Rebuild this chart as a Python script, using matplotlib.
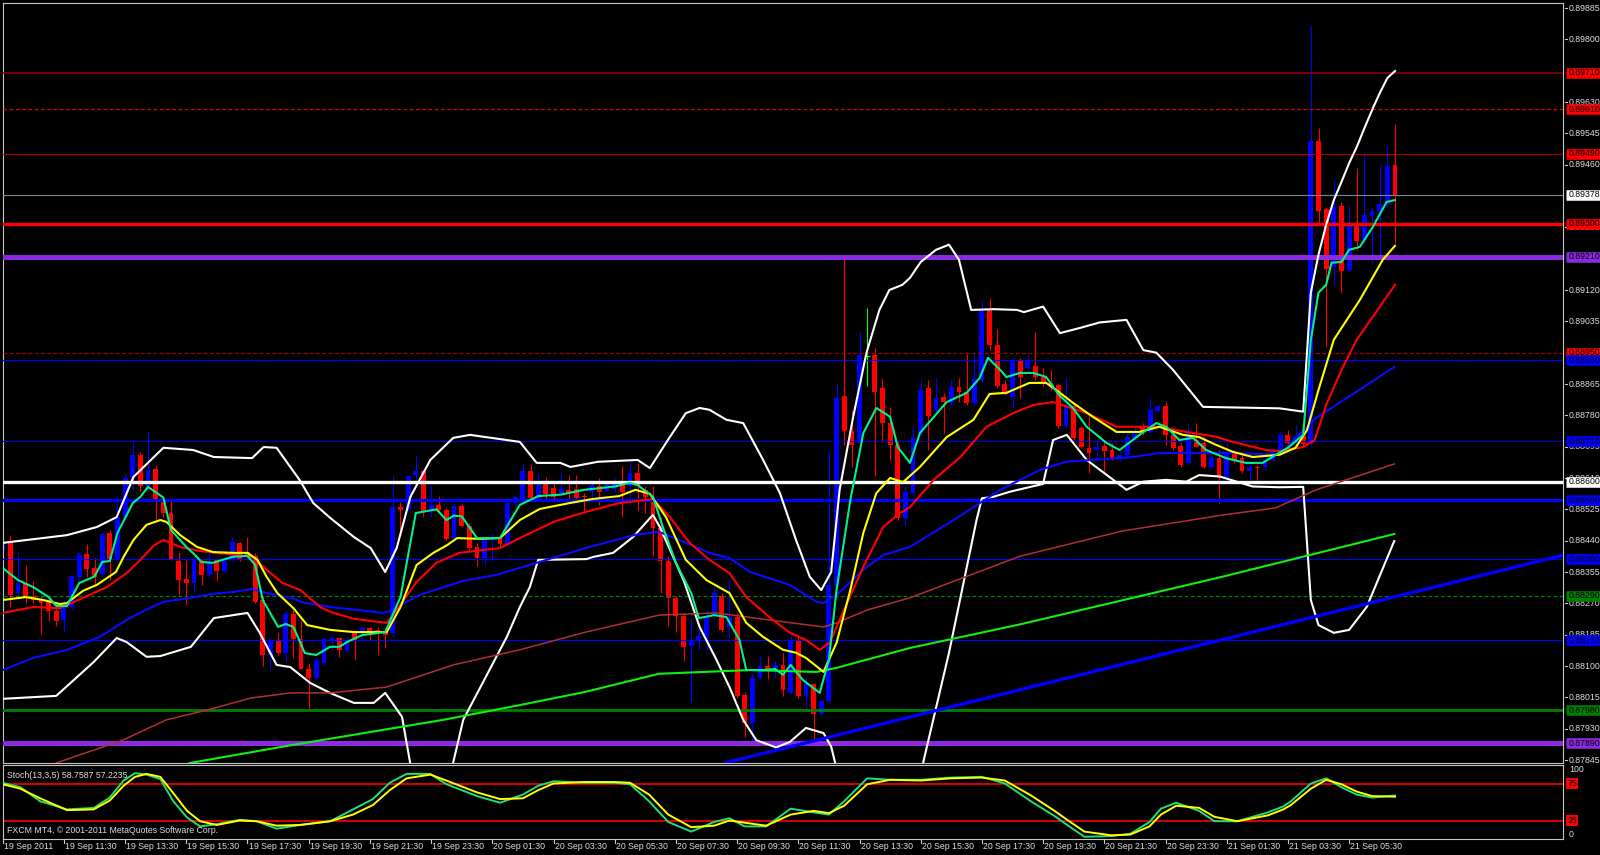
import numpy as np
import matplotlib
matplotlib.use("Agg")
import matplotlib.pyplot as plt
from matplotlib import transforms

plt.rcParams['font.family'] = ['Liberation Sans', 'DejaVu Sans']

# ---------------- data ----------------
opens = [0.88415,0.88437,0.88297,0.88324,0.88289,0.88281,0.88274,0.88248,0.88226,0.88261,
0.88342,0.88404,0.88365,0.88350,0.88460,0.88388,0.88503,0.88609,0.88672,0.88588,
0.88634,0.88550,0.88514,0.88385,0.88336,0.88324,0.88385,0.88347,0.88388,0.88358,
0.88388,0.88434,0.88410,0.88398,0.88279,0.88129,0.88171,0.88136,0.88240,0.88172,
0.88092,0.88068,0.88107,0.88167,0.88177,0.88140,0.88193,0.88189,0.88202,0.88198,
0.88193,0.88189,0.88531,0.88525,0.88618,0.88628,0.88521,0.88537,0.88523,0.88445,
0.88534,0.88480,0.88424,0.88392,0.88441,0.88451,0.88431,0.88541,0.88550,0.88630,
0.88557,0.88603,0.88582,0.88570,0.88578,0.88580,0.88561,0.88573,0.88588,0.88576,
0.88580,0.88594,0.88587,0.88623,0.88578,0.88550,0.88474,0.88384,0.88284,0.88237,
0.88154,0.88171,0.88180,0.88239,0.88289,0.88207,0.88234,0.88020,0.87945,0.88068,
0.88100,0.88094,0.88102,0.88026,0.88171,0.88018,0.88050,0.87970,0.88004,0.88316,
0.88832,0.88738,0.88704,0.88940,0.88945,0.88853,0.88758,0.88699,0.88501,0.88569,
0.88731,0.88853,0.88795,0.88829,0.88813,0.88856,0.88842,0.88813,0.88876,0.89066,
0.88971,0.88865,0.88829,0.88930,0.88908,0.88914,0.88885,0.88868,0.88862,0.88750,
0.88804,0.88746,0.88691,0.88685,0.88697,0.88686,0.88664,0.88672,0.88718,0.88751,
0.88736,0.88791,0.88804,0.88727,0.88697,0.88650,0.88713,0.88704,0.88641,0.88664,
0.88610,0.88677,0.88664,0.88628,0.88641,0.88641,0.88659,0.88678,0.88727,0.88705,
0.88724,0.88702,0.89523,0.89340,0.89183,0.89348,0.89175,0.89294,0.89256,0.89321,
0.89332,0.89354,0.89460]
highs = [0.88463,0.88455,0.88410,0.88374,0.88330,0.88289,0.88292,0.88270,0.88279,0.88347,
0.88410,0.88432,0.88392,0.88460,0.88469,0.88559,0.88623,0.88709,0.88681,0.88734,
0.88645,0.88552,0.88550,0.88410,0.88388,0.88392,0.88389,0.88407,0.88392,0.88398,
0.88451,0.88437,0.88451,0.88407,0.88289,0.88177,0.88189,0.88252,0.88252,0.88221,
0.88107,0.88122,0.88177,0.88185,0.88180,0.88180,0.88198,0.88209,0.88206,0.88206,
0.88202,0.88618,0.88546,0.88618,0.88672,0.88631,0.88591,0.88561,0.88528,0.88541,
0.88541,0.88487,0.88434,0.88451,0.88462,0.88455,0.88544,0.88564,0.88647,0.88649,
0.88623,0.88613,0.88596,0.88623,0.88618,0.88618,0.88569,0.88596,0.88609,0.88604,
0.88609,0.88643,0.88656,0.88650,0.88587,0.88587,0.88505,0.88398,0.88289,0.88240,
0.88230,0.88217,0.88252,0.88321,0.88297,0.88333,0.88243,0.88029,0.88081,0.88126,
0.88128,0.88113,0.88136,0.88188,0.88185,0.88071,0.88053,0.88008,0.88682,0.88866,
0.89206,0.88794,0.89007,0.89070,0.88963,0.88880,0.88803,0.88713,0.88587,0.88746,
0.88876,0.88876,0.88885,0.88840,0.88876,0.88880,0.88946,0.88946,0.89093,0.89098,
0.89015,0.88876,0.88935,0.88935,0.88944,0.89007,0.88908,0.88904,0.88868,0.88880,
0.88813,0.88750,0.88777,0.88713,0.88713,0.88704,0.88682,0.88731,0.88750,0.88758,
0.88826,0.88809,0.88818,0.88736,0.88709,0.88754,0.88758,0.88722,0.88677,0.88686,
0.88704,0.88686,0.88677,0.88645,0.88645,0.88668,0.88695,0.88736,0.88740,0.88754,
0.88746,0.89839,0.89560,0.89345,0.89419,0.89359,0.89351,0.89451,0.89492,0.89345,
0.89460,0.89511,0.89571]
lows = [0.88401,0.88261,0.88279,0.88270,0.88270,0.88188,0.88221,0.88208,0.88193,0.88252,
0.88333,0.88342,0.88321,0.88342,0.88333,0.88384,0.88496,0.88577,0.88575,0.88577,
0.88496,0.88505,0.88388,0.88293,0.88265,0.88297,0.88321,0.88342,0.88330,0.88353,
0.88384,0.88384,0.88392,0.88270,0.88100,0.88091,0.88131,0.88113,0.88122,0.88091,
0.87980,0.88064,0.88104,0.88143,0.88125,0.88136,0.88117,0.88171,0.88171,0.88131,
0.88148,0.88180,0.88455,0.88523,0.88604,0.88505,0.88505,0.88514,0.88441,0.88438,
0.88478,0.88410,0.88371,0.88375,0.88384,0.88421,0.88425,0.88537,0.88541,0.88554,
0.88550,0.88550,0.88550,0.88567,0.88550,0.88550,0.88521,0.88550,0.88537,0.88573,
0.88573,0.88505,0.88537,0.88523,0.88514,0.88398,0.88297,0.88208,0.88193,0.88113,
0.88003,0.88143,0.88143,0.88230,0.88193,0.88177,0.88014,0.87908,0.87899,0.88064,
0.88064,0.88068,0.88018,0.88023,0.88014,0.87985,0.87899,0.87967,0.87999,0.88312,
0.88699,0.88641,0.88699,0.88859,0.88615,0.88709,0.88659,0.88496,0.88483,0.88564,
0.88727,0.88686,0.88791,0.88731,0.88808,0.88817,0.88808,0.88808,0.88871,0.88957,
0.88853,0.88835,0.88802,0.88826,0.88900,0.88876,0.88859,0.88849,0.88746,0.88746,
0.88713,0.88691,0.88623,0.88659,0.88628,0.88659,0.88655,0.88668,0.88713,0.88727,
0.88731,0.88788,0.88699,0.88686,0.88641,0.88645,0.88694,0.88637,0.88637,0.88543,
0.88604,0.88650,0.88623,0.88604,0.88604,0.88632,0.88655,0.88672,0.88686,0.88692,
0.88697,0.88697,0.89302,0.88965,0.89134,0.89112,0.89169,0.89229,0.89251,0.89194,
0.89202,0.89345,0.89248]
closes = [0.88437,0.88293,0.88324,0.88289,0.88279,0.88270,0.88248,0.88223,0.88261,0.88344,
0.88404,0.88364,0.88342,0.88459,0.88388,0.88503,0.88611,0.88672,0.88588,0.88631,
0.88550,0.88514,0.88389,0.88333,0.88324,0.88388,0.88347,0.88382,0.88358,0.88384,
0.88436,0.88388,0.88398,0.88274,0.88129,0.88167,0.88136,0.88240,0.88172,0.88092,
0.88068,0.88117,0.88174,0.88177,0.88143,0.88169,0.88171,0.88202,0.88189,0.88189,
0.88185,0.88531,0.88523,0.88615,0.88628,0.88521,0.88537,0.88523,0.88445,0.88534,
0.88480,0.88421,0.88392,0.88448,0.88451,0.88431,0.88541,0.88559,0.88629,0.88557,
0.88596,0.88567,0.88559,0.88580,0.88570,0.88555,0.88559,0.88591,0.88573,0.88594,
0.88596,0.88573,0.88623,0.88587,0.88559,0.88474,0.88384,0.88284,0.88237,0.88152,
0.88171,0.88182,0.88230,0.88297,0.88198,0.88234,0.88018,0.87945,0.88068,0.88100,
0.88092,0.88102,0.88035,0.88167,0.88018,0.88050,0.87970,0.88004,0.88321,0.88826,
0.88738,0.88699,0.88945,0.88940,0.88843,0.88758,0.88699,0.88501,0.88573,0.88722,
0.88849,0.88777,0.88828,0.88816,0.88856,0.88842,0.88813,0.88878,0.89066,0.88971,
0.88859,0.88840,0.88930,0.88885,0.88930,0.88884,0.88868,0.88859,0.88750,0.88804,
0.88718,0.88695,0.88678,0.88695,0.88682,0.88664,0.88672,0.88722,0.88736,0.88736,
0.88795,0.88806,0.88727,0.88691,0.88645,0.88736,0.88695,0.88641,0.88664,0.88610,
0.88677,0.88659,0.88628,0.88641,0.88636,0.88659,0.88682,0.88727,0.88705,0.88724,
0.88702,0.89523,0.89333,0.89177,0.89345,0.89172,0.89294,0.89254,0.89324,0.89335,
0.89354,0.89457,0.89378]

# moving averages (bar position, price)
fast_x = [0,2,4,6,7,8.4,10,12,13,14,15,17,18,19,21,22,24,25,26,27.5,30,32,33,34,36,37,38,39.5,41,42.8,44,45,47,50,52,54,56.7,58,59,60,62,65,67.6,70,73,76,80,82,83,85,86.3,88,90,91,93,94.6,96.3,97.2,99.4,101,102,103,104.6,106.8,108,109,110.8,112.5,114.2,116,117,118.6,119.9,123.4,126,127.7,128.8,130.4,131.2,133,134.7,136.4,138.1,139.9,141.7,144.3,146,148.6,150.8,152.1,153.8,155.6,157.3,159.9,162.5,164.7,166.4,168,170,171,172,173,173.7,175,176,177.4,179.1,180.9,182]
fast_y = [0.88366,0.88333,0.88314,0.88287,0.88263,0.88263,0.88325,0.88343,0.88382,0.88385,0.88461,0.88542,0.88559,0.88586,0.88557,0.88469,0.88423,0.88404,0.88382,0.88380,0.88396,0.88399,0.88374,0.88279,0.88206,0.88214,0.88206,0.88135,0.88130,0.88152,0.88152,0.88165,0.88184,0.88192,0.88287,0.88515,0.88525,0.88496,0.88508,0.88506,0.88447,0.88447,0.88537,0.88561,0.88565,0.88578,0.88587,0.88597,0.88591,0.88559,0.88477,0.88380,0.88298,0.88230,0.88238,0.88233,0.88171,0.88089,0.88089,0.88092,0.88076,0.88103,0.88062,0.88027,0.88117,0.88306,0.88550,0.88732,0.88800,0.88776,0.88694,0.88651,0.88732,0.88816,0.88841,0.88881,0.88936,0.88903,0.88884,0.88895,0.88895,0.88884,0.88835,0.88800,0.88749,0.88705,0.88686,0.88727,0.88759,0.88749,0.88713,0.88719,0.88686,0.88664,0.88651,0.88651,0.88673,0.88692,0.88727,0.88985,0.89113,0.89134,0.89194,0.89196,0.89229,0.89237,0.89291,0.89359,0.89364]
mid_x = [0,3,5.3,7.5,8.4,10.5,12.3,14.8,15.8,17.1,18.8,20.6,21.4,23.2,25.4,27.5,30.2,32,33.3,34.5,35.9,38,39.8,42.8,45.9,50.2,52,54.1,56.3,58.1,59.4,62.4,65,67.6,70.2,74.1,77.1,80.6,82.7,84.6,86.7,89.3,92,95,97.2,99.4,102,103.7,105,107.3,109,110.8,112.5,114.2,116,117.7,119.9,123.4,126.9,129,131.2,134.2,136.4,137.7,139.9,142.5,145.6,148.6,151.2,154.3,156.4,158.6,160.8,163.4,166.9,169,170.5,172,174,177.4,180.4,182]
mid_y = [0.88279,0.88287,0.88279,0.88268,0.88271,0.88304,0.88320,0.88355,0.88396,0.88442,0.88483,0.88496,0.88491,0.88455,0.88423,0.88409,0.88407,0.88407,0.88388,0.88342,0.88298,0.88257,0.88211,0.88198,0.88192,0.88192,0.88260,0.88374,0.88407,0.88428,0.88447,0.88445,0.88447,0.88496,0.88526,0.88542,0.88553,0.88561,0.88578,0.88567,0.88504,0.88388,0.88333,0.88298,0.88217,0.88179,0.88144,0.88136,0.88122,0.88084,0.88163,0.88306,0.88461,0.88569,0.88610,0.88599,0.88640,0.88721,0.88768,0.88838,0.88841,0.88868,0.88868,0.88849,0.88814,0.88776,0.88735,0.88735,0.88749,0.88727,0.88721,0.88700,0.88681,0.88667,0.88673,0.88692,0.88740,0.88849,0.88985,0.89093,0.89202,0.89240]
slow_x = [0,4,7.5,10.5,13.6,16.2,18,19.7,21,23.2,25.8,29.3,32.6,34.5,36.6,38.9,41.5,42.8,45.9,50.2,51.5,54.1,56.7,59.7,65,67.6,72,76.2,80.6,85,87.2,89.8,92.4,95,97.2,100.2,102.9,105,106.8,108.1,109.8,112.5,115.1,117.3,118.6,121.7,125.2,128.6,132.1,134.7,137.3,141.7,145.6,151.2,154.7,158.6,160.8,165.1,166.9,170,171.5,173,175,177,182]
slow_y = [0.88244,0.88260,0.88257,0.88285,0.88314,0.88352,0.88388,0.88426,0.88442,0.88423,0.88412,0.88404,0.88396,0.88361,0.88325,0.88306,0.88260,0.88247,0.88228,0.88217,0.88252,0.88328,0.88380,0.88407,0.88420,0.88447,0.88491,0.88518,0.88542,0.88553,0.88504,0.88434,0.88388,0.88352,0.88287,0.88233,0.88190,0.88171,0.88144,0.88163,0.88244,0.88369,0.88477,0.88515,0.88531,0.88605,0.88667,0.88749,0.88786,0.88808,0.88816,0.88786,0.88749,0.88749,0.88735,0.88722,0.88708,0.88686,0.88683,0.88694,0.88713,0.88808,0.88903,0.88985,0.89134]
ma50_x = [0,4,8.4,12.7,16.2,18.7,21,24.6,27.5,30.2,32.6,34.5,37.6,39.5,42.8,49.8,50.6,54.5,60.2,64.5,69.8,76.2,82.7,85.8,89,92.4,95,97.7,102.9,106.4,107.3,109,112.5,115.1,118.6,124.3,130.4,135.6,139,147.8,151.2,160.8,166.9,171.7,181.9]
ma50_y = [0.88089,0.88122,0.88144,0.88179,0.88225,0.88252,0.88274,0.88285,0.88296,0.88301,0.88309,0.88298,0.88285,0.88271,0.88260,0.88244,0.88249,0.88293,0.88331,0.88347,0.88380,0.88420,0.88456,0.88464,0.88437,0.88407,0.88393,0.88355,0.88320,0.88274,0.88271,0.88293,0.88361,0.88401,0.88423,0.88496,0.88578,0.88632,0.88654,0.88667,0.88678,0.88678,0.88673,0.88773,0.88911]
ma100_x = [3,7,15.7,21.4,26.8,32.4,37.6,42.8,50.2,58.9,67.6,76.2,85.8,93.3,102,107.3,109,113,118.6,133,146.3,159.6,166.4,171.7,181.9]
ma100_y = [0.87780,0.87837,0.87899,0.87954,0.87981,0.88013,0.88027,0.88027,0.88043,0.88103,0.88144,0.88192,0.88238,0.88244,0.88220,0.88206,0.88217,0.88252,0.88285,0.88398,0.88466,0.88510,0.88529,0.88578,0.88648]
ma200_x = [20,24.5,37.1,57.6,67.6,76.2,85.8,97.7,106.4,109,118.6,133,159.6,181.9]
ma200_y = [0.87800,0.87837,0.87883,0.87954,0.87994,0.88030,0.88079,0.88089,0.88084,0.88095,0.88149,0.88213,0.88343,0.88458]
bbu_x = [0,8.4,12.3,14.9,17.1,21,24.9,27.6,32.6,34.1,35.8,38.8,40.6,42.8,45.9,48.1,50,51.5,53.3,55.9,58.9,61.1,67.6,69.8,72.9,74.2,77.8,83,84.6,87.2,89.3,91.1,92.4,94.6,96.8,99.4,101.6,103.7,105.5,107,108.3,109.4,111.1,112.9,114.6,115.9,117.6,118.6,120,122,123.7,125,126.6,129.5,132.6,133.5,136,138.2,140.8,143.4,146.9,149.1,150.8,153,156.9,166.9,170,171,172,173,174,175,176,177,178,179,180,181,182]
bbu_y = [0.88434,0.88455,0.88477,0.88504,0.88613,0.88692,0.88686,0.88667,0.88664,0.88694,0.88692,0.88605,0.88542,0.88502,0.88450,0.88420,0.88355,0.88420,0.88559,0.88659,0.88719,0.88727,0.88708,0.88651,0.88651,0.88640,0.88654,0.88659,0.88637,0.88721,0.88786,0.88800,0.88795,0.88768,0.88759,0.88659,0.88569,0.88442,0.88342,0.88306,0.88355,0.88578,0.88768,0.88949,0.89066,0.89120,0.89134,0.89153,0.89196,0.89229,0.89243,0.89202,0.89066,0.89068,0.89066,0.89060,0.89075,0.89003,0.89017,0.89032,0.89039,0.88957,0.88950,0.88903,0.88803,0.88799,0.88790,0.89113,0.89216,0.89297,0.89364,0.89413,0.89464,0.89508,0.89559,0.89608,0.89654,0.89695,0.89714]
bbl_x = [0,7,11.9,14.9,16.2,18.8,20.6,24.6,27.6,32,33.6,35.8,37.6,40.2,42.8,45.9,48.5,50,52.2,54,56,58,60.2,65.9,67.6,68.9,70,76.3,77.2,79.8,82.4,85,85.9,89,91.1,93.3,95,96.8,98.5,101.1,102.9,105,107.3,108.3,110,114,118,120.4,123.7,127.3,128,129.5,131.7,136,137.3,139.1,141.7,146.9,149.1,152.1,154.7,156.4,159.1,163.4,166.9,170,171,172,174,176,178.3,181.9]
bbl_y = [0.88011,0.88019,0.88111,0.88176,0.88165,0.88125,0.88127,0.88152,0.88230,0.88244,0.88190,0.88103,0.88097,0.88054,0.88027,0.88000,0.88000,0.88027,0.87962,0.87750,0.87710,0.87760,0.87954,0.88179,0.88260,0.88314,0.88388,0.88390,0.88396,0.88407,0.88450,0.88510,0.88477,0.88333,0.88206,0.88117,0.88043,0.87954,0.87899,0.87879,0.87894,0.87932,0.87918,0.87881,0.87737,0.87466,0.87600,0.87845,0.88136,0.88496,0.88555,0.88559,0.88573,0.88594,0.88713,0.88727,0.88659,0.88578,0.88600,0.88605,0.88600,0.88618,0.88614,0.88587,0.88585,0.88586,0.88279,0.88211,0.88190,0.88198,0.88260,0.88439]

# trend line anchors (bar, price)
trend_x = [101.2, 204.0]
trend_y = [0.87872, 0.88401]

# horizontal levels
level_prices = [0.89710, 0.89610, 0.89490, 0.89300, 0.89210, 0.88950, 0.88930, 0.88710,
                0.88600, 0.88550, 0.88390, 0.88290, 0.88170, 0.87980, 0.87890]
level_text = ['0.89710', '0.89610', '0.89490', '0.89300', '0.89210', '0.88950', '0.88930', '0.88710',
              '0.88600', '0.88550', '0.88390', '0.88290', '0.88170', '0.87980', '0.87890']
bid_price = 0.89378
bid_text = '0.89378'

# visible scale ticks (those entirely hidden behind level labels are left out)
price_ticks = [0.87845, 0.87930, 0.88015, 0.88100, 0.88185, 0.88270, 0.88355, 0.88440, 0.88525,
               0.88610, 0.88695, 0.88780, 0.88865, 0.89035, 0.89120, 0.89290,
               0.89460, 0.89545, 0.89630, 0.89800, 0.89885]

time_bars = [0, 8, 16, 24, 32, 40, 48, 56, 64, 72, 80, 88, 96, 104, 112, 120, 128, 136, 144, 152, 160, 168, 176]
time_labels = ['19 Sep 2011', '19 Sep 11:30', '19 Sep 13:30', '19 Sep 15:30', '19 Sep 17:30',
               '19 Sep 19:30', '19 Sep 21:30', '19 Sep 23:30', '20 Sep 01:30', '20 Sep 03:30',
               '20 Sep 05:30', '20 Sep 07:30', '20 Sep 09:30', '20 Sep 11:30', '20 Sep 13:30',
               '20 Sep 15:30', '20 Sep 17:30', '20 Sep 19:30', '20 Sep 21:30', '20 Sep 23:30',
               '21 Sep 01:30', '21 Sep 03:30', '21 Sep 05:30']

# stochastic (bar position, value)
stoch_x = [0,2.3,4.9,8.4,11.9,14,15.8,17.3,18.8,20.6,22.3,24.1,25.8,28,31,33.2,35.8,38.9,42.8,45.8,48.4,50.6,52.8,55.9,58,62,65,68,70,72,76,80,82,84.5,87,90,93,95,97,99.8,103,106,108,110,113,116,120,124,128,131,134.4,137.5,139,141.4,144.9,147.4,149.9,151.4,153.4,156.4,158.4,161.4,165.4,167.4,168.4,171,173,175,177,179,182]
stoch_k = [76,70,51,40,42,56,79,89,87,81,51,29,17,20,26,24,14,19,24,40,54,76,88,88,74,58,49,60,72,78,76,76,74,51,23,10,23,28,17,17,41,36,33,51,82,80,80,83,84,75,51,31,20,3,4,7,23,41,49,38,24,24,36,44,51,75,82,70,60,56,58.76]
stoch_d = [74,68,55,39,40,52,72,84,88,84,62,38,24,19,25,24,18,19,24,33,46,66,82,87,79,63,54,55,66,75,77,77,76,60,33,16,18,25,22,18,33,38,35,45,74,80,79,82,83,79,59,38,27,10,5,6,17,33,45,42,30,24,32,40,46,68,80,74,64,58,57.22]
stoch_levels = [75, 25]
stoch_title = 'Stoch(13,3,5) 58.7587 57.2235'
copyright_text = 'FXCM MT4, \u00a9 2001-2011 MetaQuotes Software Corp.'

# ---------------- layout ----------------
W, H = 1600, 855
fig = plt.figure(figsize=(W / 100, H / 100), dpi=100)
fig.patch.set_facecolor('black')

L, R = 2.7, 1563.3
T1, B1 = 2.7, 762.7
T2, B2 = 765.0, 839.0
ax = fig.add_axes([L / W, 1 - B1 / H, (R - L) / W, (B1 - T1) / H])
axs = fig.add_axes([L / W, 1 - B2 / H, (R - L) / W, (B2 - T2) / H])
XMIN, XMAX = 0.0, 204.0
PMIN, PMAX = 0.878377, 0.898994
for a in (ax, axs):
    a.set_facecolor('black')
    for s in a.spines.values():
        s.set_color('#C8C8C8')
        s.set_linewidth(0.8)
    a.set_xticks([])
    a.set_yticks([])

TXT = '#DCDCDC'
FS = 6.3

# ---------------- candles ----------------
o = np.array(opens); h = np.array(highs); l = np.array(lows); c = np.array(closes)
x = np.arange(len(o))
bull = c > o
bear = c < o
doji = c == o
BW = 0.64
ax.vlines(x[bull], l[bull], h[bull], color='#0000FF', lw=0.8, zorder=2)
ax.bar(x[bull], (c - o)[bull], bottom=o[bull], width=BW, color='#0000FF', linewidth=0, zorder=2)
ax.vlines(x[bear], l[bear], h[bear], color='#FF0000', lw=0.8, zorder=2)
ax.bar(x[bear], (o - c)[bear], bottom=c[bear], width=BW, color='#FF0000', linewidth=0, zorder=2)
ax.vlines(x[doji], l[doji], h[doji], color='#00FF00', lw=0.8, zorder=2)
ax.hlines(o[doji], x[doji] - BW / 2, x[doji] + BW / 2, color='#00FF00', lw=0.8, zorder=2)

# ---------------- horizontal levels ----------------
level_style = [
    ('#8B0000', 1.2, '-', '#FF0000'),
    ('#E00000', 0.9, (0, (3, 2)), '#FF0000'),
    ('#B00000', 0.8, '-', '#FF0000'),
    ('#FF0000', 2.4, '-', '#FF0000'),
    ('#8A2BE2', 3.6, '-', '#8A2BE2'),
    ('#A00000', 0.9, (0, (3, 2)), '#FF0000'),
    ('#0000FF', 0.8, '-', '#0000FF'),
    ('#0000CD', 0.8, '-', '#0000FF'),
    ('#FFFFFF', 2.4, '-', '#FFFFFF'),
    ('#0000FF', 2.2, '-', '#0000FF'),
    ('#0000FF', 0.8, '-', '#0000FF'),
    ('#008000', 0.9, (0, (3, 2)), '#008000'),
    ('#0000FF', 0.8, '-', '#0000FF'),
    ('#008000', 2.0, '-', '#008000'),
    ('#8A2BE2', 3.6, '-', '#8A2BE2'),
]
for p, (col, lw, ls, bg) in zip(level_prices, level_style):
    ax.axhline(p, color=col, lw=lw, ls=ls, zorder=2.6)
ax.axhline(bid_price, color='#778899', lw=0.8, zorder=2.6)

# ---------------- indicators ----------------
ax.plot(bbu_x, bbu_y, color='white', lw=1.5, zorder=3)
ax.plot(bbl_x, bbl_y, color='white', lw=1.5, zorder=3)
ax.plot(ma200_x, ma200_y, color='#10F010', lw=1.5, zorder=3)
ax.plot(ma100_x, ma100_y, color='#B03030', lw=1.1, zorder=3)
ax.plot(ma50_x, ma50_y, color='#0A0AFF', lw=1.5, zorder=3)
ax.plot(slow_x, slow_y, color='#FF0000', lw=1.5, zorder=3)
ax.plot(mid_x, mid_y, color='#FFFF00', lw=1.5, zorder=3)
ax.plot(fast_x, fast_y, color='#00F08C', lw=1.5, zorder=3.1)
ax.axline((trend_x[0], trend_y[0]), (trend_x[1], trend_y[1]), color='#0000FF', lw=2.4, zorder=3.2)

ax.set_xlim(XMIN, XMAX)
ax.set_ylim(PMIN, PMAX)

# ---------------- right price scale ----------------
tr = transforms.blended_transform_factory(fig.transFigure, ax.transData)
for p in price_ticks:
    ax.plot([1564.5 / W, 1567.3 / W], [p, p], transform=tr, color='#C8C8C8', lw=0.8, clip_on=False, zorder=5)
    ax.text(1569 / W, p, f'{p:.5f}', transform=tr, color=TXT, fontsize=FS, va='center', ha='left', zorder=5)
for p, t, (col, lw, ls, bg) in zip(level_prices, level_text, level_style):
    ax.plot([1565.7 / W, 1.0], [p, p], transform=tr, color=bg, lw=7.6, solid_capstyle='butt',
            clip_on=False, zorder=10)
    ax.text(1569 / W, p, t, transform=tr, color='black', fontsize=FS, va='center', ha='left', zorder=11)
ax.plot([1565.7 / W, 1.0], [bid_price, bid_price], transform=tr, color='white', lw=7.6,
        solid_capstyle='butt', clip_on=False, zorder=10)
ax.text(1569 / W, bid_price, bid_text, transform=tr, color='black', fontsize=FS, va='center', ha='left', zorder=11)

# ---------------- stochastic ----------------
axs.set_xlim(XMIN, XMAX)
axs.set_ylim(0, 100)
for lv in stoch_levels:
    axs.axhline(lv, color='#FF0000', lw=1.2, zorder=2)
axs.plot(stoch_x, stoch_k, color='#1EE07A', lw=1.4, zorder=3)
axs.plot(stoch_x, stoch_d, color='#FFFF00', lw=1.4, zorder=3.1)
trs = transforms.blended_transform_factory(fig.transFigure, axs.transData)
axs.text(1569 / W, 100, '100', transform=trs, color=TXT, fontsize=FS, va='top', ha='left')
axs.text(1569 / W, 0, '0', transform=trs, color=TXT, fontsize=FS, va='bottom', ha='left')
for lv in stoch_levels:
    axs.text(1567.5 / W, lv, str(lv), transform=trs, color='black', fontsize=FS, va='center', ha='left',
             bbox=dict(boxstyle='square,pad=0.12', fc='#FF0000', ec='none'), zorder=10)
fig.text(7 / W, 1 - 775 / H, stoch_title, color=TXT, fontsize=FS, va='center', ha='left')
fig.text(6.7 / W, 1 - 830.5 / H, copyright_text, color=TXT, fontsize=FS, va='center', ha='left')

# ---------------- time axis ----------------
trb = transforms.blended_transform_factory(axs.transData, fig.transFigure)
for b, t in zip(time_bars, time_labels):
    axs.plot([b, b], [1 - 839 / H, 1 - 842.5 / H], transform=trb, color='#C8C8C8', lw=0.8, clip_on=False)
    axs.text(b + 0.15, 1 - 846.5 / H, t, transform=trb, color=TXT, fontsize=FS, va='center', ha='left')

fig.savefig('out.png', dpi=100, facecolor='black')
